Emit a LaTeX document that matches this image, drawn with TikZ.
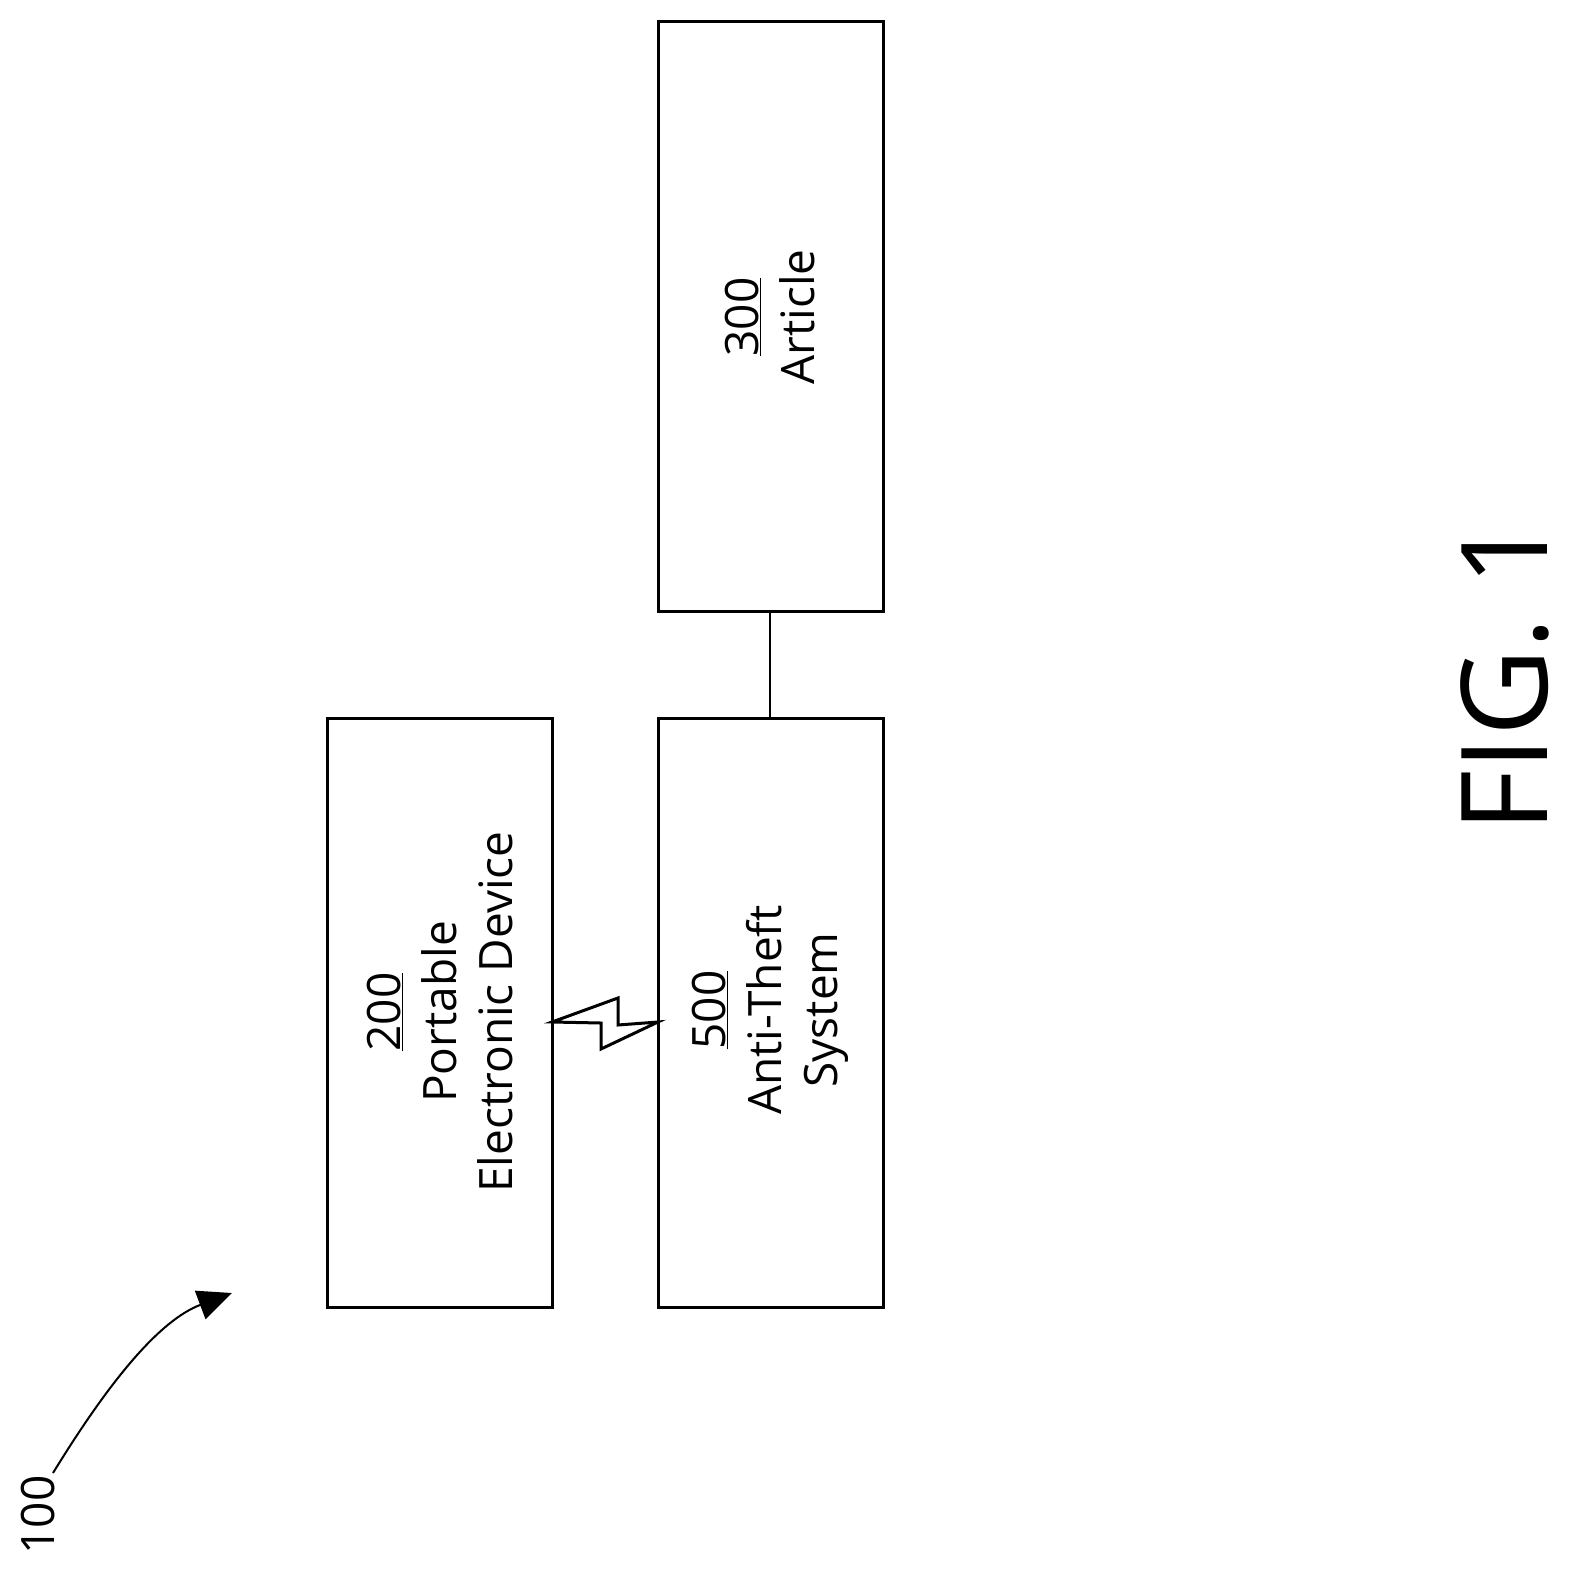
\documentclass[tikz,border=0pt]{standalone}
\usepackage{fontspec}
\setmainfont{Open Sans}
\usetikzlibrary{arrows.meta}
\begin{document}
\begin{tikzpicture}[x=1pt,y=-1pt,
  box/.style={draw,line width=3pt},
  lbl/.style={rotate=90,align=center,font=\fontsize{46}{56}\selectfont},
  ln/.style={line width=2pt}]
\useasboundingbox (0,0) rectangle (1574,1584);
\draw[box] (327,718) rectangle (552,1307);
\draw[box] (658,718) rectangle (883,1307);
\draw[box] (658,22) rectangle (883,611);
\coordinate (a) at (770,611);
\coordinate (b) at (770,718);
\node[lbl] (t200) at (440,1012) {\underline{200}\\Portable\\Electronic Device};
\node[lbl] (t500) at (770,1010) {\underline{500}\\Anti-Theft\\System};
\node[lbl] (t300) at (770,317) {\underline{300}\\Article};
\draw[ln] (a) -- (b);
\draw[line width=3pt,line join=miter] (552,1022) -- (618,998) -- (618,1025) -- (658,1022) -- (601,1049) -- (601,1023) -- cycle;
\node[rotate=90,font=\fontsize{120}{130}\selectfont] (fig) at (1505,675) {FIG. 1};
\node[rotate=90,font=\fontsize{46}{56}\selectfont] (l100) at (38,1515) {100};
\coordinate (s) at (53,1473);
\coordinate (e) at (232,1293);
\draw[ln,-{Triangle[length=34pt,width=30pt]}] (s) .. controls (110,1380) and (160,1320) .. (e);
\end{tikzpicture}
\end{document}
